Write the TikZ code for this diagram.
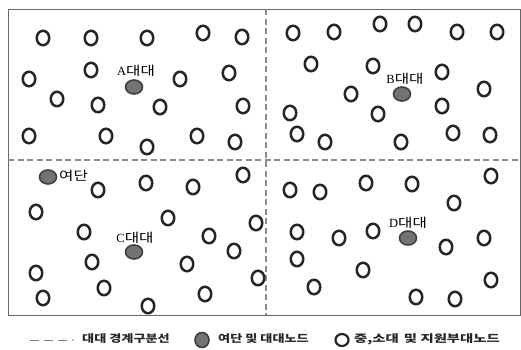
\documentclass[tikz,border=0pt]{standalone}
\usepackage{fontspec}
\setmainfont{Liberation Serif}
\newfontfamily\krw[FakeStretch=1.25]{Noto Sans CJK KR}
\newfontfamily\krx[FakeStretch=1.37]{Noto Sans CJK KR}
\usetikzlibrary{shapes.geometric}
\tikzset{
  sub/.style={ellipse,draw=black!85,line width=2.5pt,minimum width=12.5pt,minimum height=14.5pt,inner sep=0pt},
  hq/.style={ellipse,draw=black!75,fill=black!55,line width=1.6pt,minimum width=17pt,minimum height=14pt,inner sep=0pt},
  lbl/.style={font=\fontsize{12.5}{12.5}\selectfont,inner sep=0pt},
  leg/.style={font=\fontsize{10.5}{11}\selectfont\krw\bfseries,text=black!85,inner sep=0pt,anchor=west},
  bound/.style={draw=black!45,dashed,dash pattern=on 6pt off 3.5pt,line width=1.3pt},
}
\begin{document}
\begin{tikzpicture}[x=1pt,y=-1pt]
\useasboundingbox (0,0) rectangle (521,349);
% frame
\coordinate (tl) at (8,9);
\coordinate (br) at (520,315);
\draw[draw=black!60,line width=1pt] (tl) rectangle (br);
\coordinate (vt) at (266,9);
\coordinate (vb) at (266,315);
\coordinate (hl) at (8,160);
\coordinate (hr) at (520,160);
\draw[bound] (vt) -- (vb);
\draw[bound] (hl) -- (hr);
% quadrant A
\foreach \x/\y [count=\i] in {43/38,91/38,147/38,203/33,242/37,91/70,29/79,180/79,229/73,57/99,98/105,160/107,243/106,29/136,106/136,147/147,197/136,235/142}
  \node[sub] (a\i) at (\x,\y) {};
\node[hq] (A) at (134,87) {};
\node[lbl] (Al) at (136,71) {A{\krw 대대}};
% quadrant B
\foreach \x/\y [count=\i] in {293/33,334/32,380/24,415/24,457/32,497/32,311/64,373/66,442/72,351/94,484/89,290/113,378/114,442/106,297/134,325/142,401/142,453/133,490/135}
  \node[sub] (b\i) at (\x,\y) {};
\node[hq] (B) at (402,94) {};
\node[lbl] (Bl) at (405,79) {B{\krw 대대}};
% quadrant C
\foreach \x/\y [count=\i] in {98/190,146/183,193/187,243/175,36/212,168/218,84/232,209/236,256/223,234/251,92/262,187/264,36/273,258/278,104/288,43/298,148/306,205/294}
  \node[sub] (c\i) at (\x,\y) {};
\node[hq] (Y) at (48,177) {};
\node[lbl,anchor=west] (Yl) at (59,176) {\krw 여단};
\node[hq] (C) at (134,252) {};
\node[lbl] (Cl) at (135,238) {C{\krw 대대}};
% quadrant D
\foreach \x/\y [count=\i] in {290/190,320/192,366/183,412/184,491/176,454/203,297/232,339/238,373/231,446/247,484/238,297/259,363/270,314/287,491/280,416/297,455/299}
  \node[sub] (d\i) at (\x,\y) {};
\node[hq] (D) at (408,238) {};
\node[lbl] (Dl) at (408,223) {D{\krw 대대}};
% legend
\coordinate (l1) at (30,340);
\coordinate (l2) at (67,340);
\coordinate (l3) at (73,340);
\draw[draw=black!50,line width=1pt,dash pattern=on 9pt off 5pt] (l1) -- (l2);
\fill[black!50] (l3) circle (0.8pt);
\node[leg] (t1) at (82,339) {대대 경계구분선};
\node[hq,minimum width=14pt,minimum height=15pt] (g1) at (202,340) {};
\node[leg] (t2) at (218,339) {여단 및 대대노드};
\node[sub,minimum width=13pt,minimum height=12pt,line width=2.2pt] (g2) at (342,340) {};
\node[leg,font=\fontsize{10.5}{11}\selectfont\krx\bfseries] (t3) at (354,339) {중,소대 \,및 지원부대노드};
\end{tikzpicture}
\end{document}
